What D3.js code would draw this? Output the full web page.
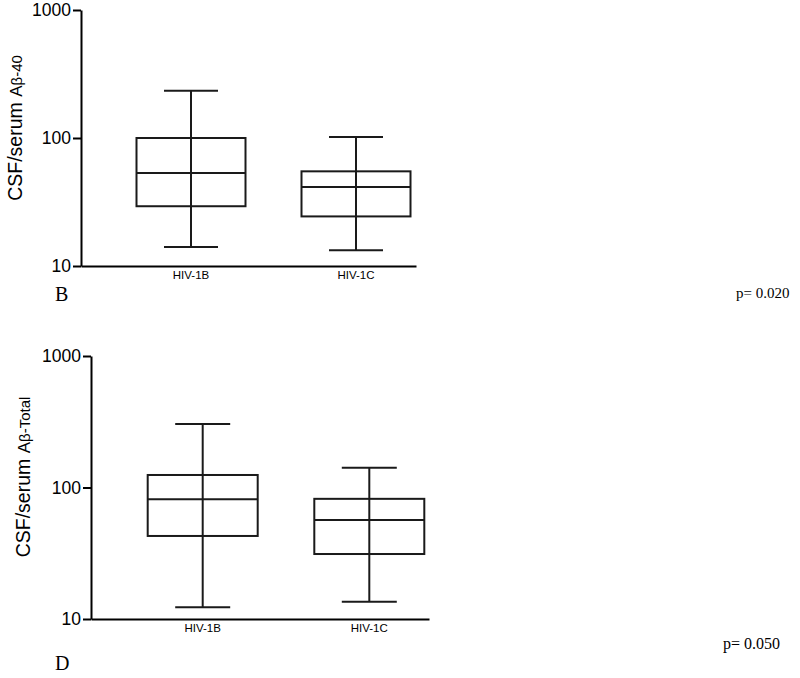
<!DOCTYPE html>
<html>
<head>
<meta charset="utf-8">
<script src="https://cdn.jsdelivr.net/npm/d3@7"></script>
<style>
  body { margin: 0; background: #fff; }
  svg { display: block; }
  .os text { font-family: "Liberation Sans", Arial, sans-serif; fill: #000; }
  .os path, .os line { stroke: #000; stroke-width: 2; }
  .kutija { fill: none; stroke: #1a1a1a; stroke-width: 2; }
  .serif { font-family: "Liberation Serif", "Times New Roman", serif; fill: #000; }
</style>
</head>
<body>
<div id="okvir"></div>
<script>
// podaci: [donji brk, Q1, medijan, Q3, gornji brk]
const kategorije = ["HIV-1B", "HIV-1C"]
const ab40Stat = [
  [14.1, 29.3, 53.3, 100, 234],
  [13.3, 24.4, 41.4, 54.9, 102],
]
const abTotalStat = [
  [12.3, 42.8, 81.3, 124.5, 304],
  [13.5, 31.2, 56.6, 82, 141.5],
]
const yTickovi = [10, 100, 1000]
const pVrijednosti = ["p= 0.020", "p= 0.050"]
const oznakePanela = ["B", "D"]

const okvir = d3.select("#okvir")
  .append("svg")
    .attr("width", 800)
    .attr("height", 678)

const paneli = [
  {
    stat: ab40Stat, naslov: "-40",
    lijevo: 81, vrh: 10, dno: 266, desno: 416,
    centri: [110, 275], sirinaKutije: 109, sirinaBrka: 54,
    oznakaX: 22, oznakaY: 128, oznaka: { x: 55, y: 301 }, p: { x: 736, y: 298 }, pVel: 15,
  },
  {
    stat: abTotalStat, naslov: "-Total",
    lijevo: 91, vrh: 356, dno: 619, desno: 429,
    centri: [111.7, 278.3], sirinaKutije: 110, sirinaBrka: 55,
    oznakaX: 30, oznakaY: 477, oznaka: { x: 55, y: 670 }, p: { x: 723, y: 649 }, pVel: 16,
  },
]

paneli.forEach((pn, i) => {
  const g = okvir.append("g")
      .attr("transform", `translate(${pn.lijevo},0)`)

  const ySkala = d3.scaleLog()
    .domain([10, 1000])
    .range([pn.dno, pn.vrh])

  const xSkala = d3.scalePoint()
    .domain(kategorije)
    .range(pn.centri)

  // kutije
  const kutije = g.selectAll(".grupa")
    .data(pn.stat)
    .join("g")

  kutije.append("line")
      .attr("class", "kutija")
      .attr("x1", (d, j) => xSkala(kategorije[j]))
      .attr("x2", (d, j) => xSkala(kategorije[j]))
      .attr("y1", d => ySkala(d[0]))
      .attr("y2", d => ySkala(d[4]))

  kutije.selectAll(".brk")
    .data((d, j) => [d[0], d[4]].map(v => ({ v, j })))
    .join("line")
      .attr("class", "kutija")
      .attr("x1", d => xSkala(kategorije[d.j]) - pn.sirinaBrka / 2)
      .attr("x2", d => xSkala(kategorije[d.j]) + pn.sirinaBrka / 2)
      .attr("y1", d => ySkala(d.v))
      .attr("y2", d => ySkala(d.v))

  kutije.append("rect")
      .attr("class", "kutija")
      .attr("fill", "#fff")
      .attr("x", (d, j) => xSkala(kategorije[j]) - pn.sirinaKutije / 2)
      .attr("width", pn.sirinaKutije)
      .attr("y", d => ySkala(d[3]))
      .attr("height", d => ySkala(d[1]) - ySkala(d[3]))

  kutije.append("line")
      .attr("class", "kutija")
      .attr("x1", (d, j) => xSkala(kategorije[j]) - pn.sirinaKutije / 2)
      .attr("x2", (d, j) => xSkala(kategorije[j]) + pn.sirinaKutije / 2)
      .attr("y1", d => ySkala(d[2]))
      .attr("y2", d => ySkala(d[2]))

  // osi
  const yOs = g.append("g")
      .attr("class", "os")
    .call(d3.axisLeft(ySkala)
      .tickValues(yTickovi)
      .tickFormat(d3.format("d"))
      .tickSize(8)
      .tickSizeOuter(0)
      .tickPadding(2))
  yOs.selectAll("text").style("font-size", "17.5px")

  const xOs = g.append("g")
      .attr("class", "os")
      .attr("transform", `translate(0,${pn.dno})`)
    .call(d3.axisBottom(d3.scaleLinear().range([0, pn.desno - pn.lijevo]))
      .tickValues([])
      .tickSizeOuter(0))

  g.selectAll(".xoznaka")
    .data(kategorije)
    .join("text")
      .attr("class", "os")
      .attr("x", d => xSkala(d))
      .attr("y", pn.dno + 13)
      .attr("text-anchor", "middle")
      .style("font-family", "'Liberation Sans', Arial, sans-serif")
      .style("font-size", "11.5px")
      .text(d => d)

  // naslov osi y
  const naslov = okvir.append("text")
      .attr("transform", `translate(${pn.oznakaX},${pn.oznakaY}) rotate(-90)`)
      .attr("text-anchor", "middle")
      .style("font-family", "'Liberation Sans', Arial, sans-serif")
      .style("font-size", "19.5px")
  naslov.append("tspan").text("CSF/serum ")
  naslov.append("tspan").style("font-size", "17px").text("A")
  naslov.append("tspan").style("font-size", "15px").text("β" + pn.naslov)

  okvir.append("text")
      .attr("class", "serif")
      .attr("x", pn.oznaka.x)
      .attr("y", pn.oznaka.y)
      .style("font-size", "20px")
      .text(oznakePanela[i])

  okvir.append("text")
      .attr("class", "serif")
      .attr("x", pn.p.x)
      .attr("y", pn.p.y)
      .style("font-size", pn.pVel + "px")
      .text(pVrijednosti[i])
})
</script>
</body>
</html>
